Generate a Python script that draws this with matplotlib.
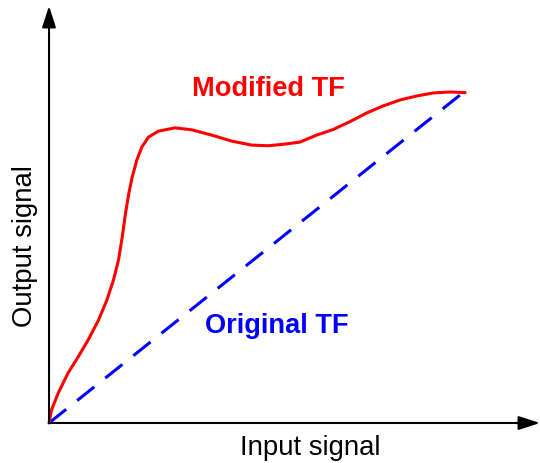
import matplotlib
matplotlib.use("Agg")
import matplotlib.pyplot as plt

plt.rcParams['font.family'] = ['Liberation Sans', 'DejaVu Sans']
plt.rcParams['lines.scale_dashes'] = False

# Original transfer function (straight line)
orig_x = [0, 100]
orig_y = [0, 100]

# Modified transfer function
mod_x = [0.0, 0.6, 2.2, 4.6, 7.0, 9.4, 11.9, 13.9, 15.5, 16.7, 17.6, 18.4,
         19.2, 20.0, 21.1, 22.3, 23.9, 26.3, 30.3, 34.3, 39.1, 43.9, 48.7,
         52.7, 56.7, 60.3, 64.3, 68.3, 72.4, 76.4, 80.3, 84.4, 88.4, 92.3,
         96.4, 100.0]
mod_y = [0.0, 3.9, 9.0, 15.1, 19.9, 25.0, 31.0, 37.0, 43.1, 49.1, 56.0, 63.3,
         69.3, 74.1, 79.2, 83.1, 86.1, 87.9, 88.9, 88.3, 86.7, 84.9, 83.7,
         83.5, 84.0, 84.6, 86.7, 88.4, 90.8, 93.4, 95.5, 97.3, 98.5, 99.4,
         99.7, 99.5]

fig = plt.figure(figsize=(5.4, 4.64), dpi=100)
ax = fig.add_axes([0, 0, 1, 1])
ax.set_xlim(-11.78, 118.0)
ax.set_ylim(-12.05, 127.7)
ax.axis('off')

# axes with arrow heads
arrow = dict(arrowstyle='-|>,head_length=1.3,head_width=0.42', color='black',
             lw=1.5, shrinkA=0, shrinkB=0)
ax.annotate('', xy=(118.0, 0), xytext=(0, 0), arrowprops=arrow)
ax.annotate('', xy=(0, 125.6), xytext=(0, 0), arrowprops=arrow)

ax.plot(orig_x, orig_y, color='#0000ff', lw=2.2, linestyle=(0, (15.8, 10.1)))
ax.plot(mod_x, mod_y, color='#ff0000', lw=2.2, solid_capstyle='round',
        solid_joinstyle='round')

ax.text(52.6, 98.8, 'Modified TF', color='#ff0000', fontsize=19.6,
        fontweight='bold', ha='center', va='baseline')
ax.text(54.8, 27.4, 'Original TF', color='#0000ff', fontsize=19.6,
        fontweight='bold', ha='center', va='baseline')
ax.text(62.7, -9.3, 'Input signal', color='black', fontsize=19.8,
        ha='center', va='baseline')
ax.text(-5.77, 53.6, 'Output signal', color='black', fontsize=19.8,
        rotation=90, ha='center', va='center')

fig.savefig('out.png', dpi=100)
